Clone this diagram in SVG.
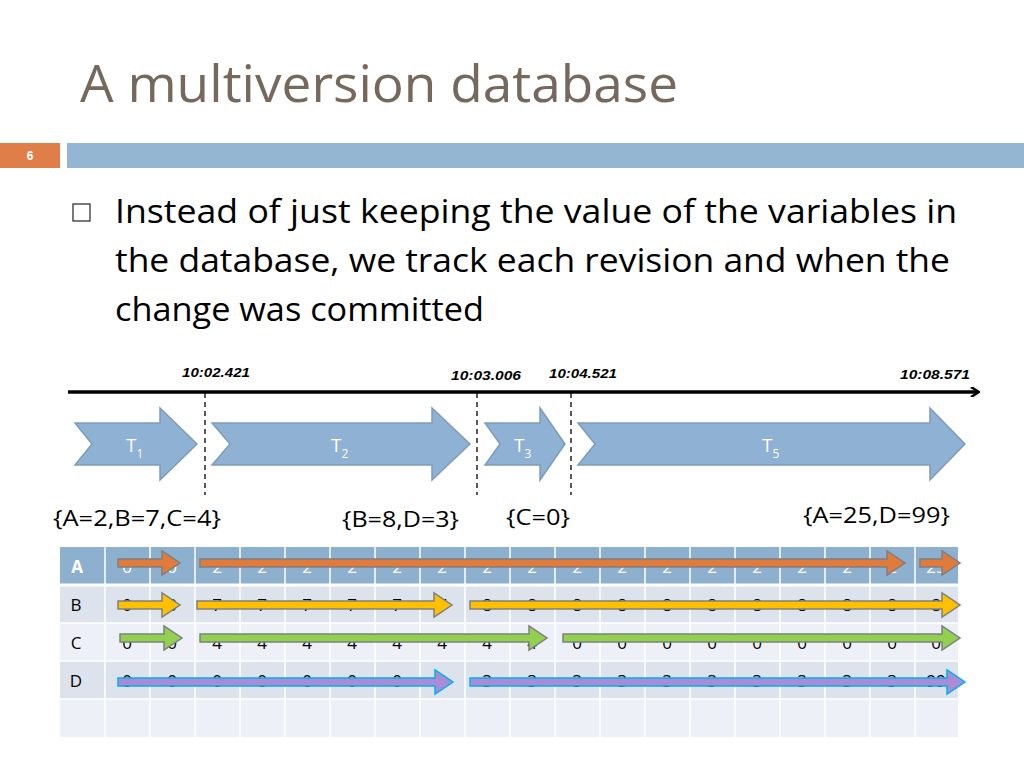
<svg xmlns="http://www.w3.org/2000/svg" width="1024" height="768" viewBox="0 0 1024 768">
<defs>
<style>
.body{font-family:"Open Sans","Liberation Sans",sans-serif;font-size:32px;fill:#000}
.ts{font-family:"Liberation Sans",sans-serif;font-size:13px;font-style:italic;font-weight:bold}
.set{font-family:"Open Sans","Liberation Sans",sans-serif;font-size:21px}
.ch{fill:#8FB1D3;stroke:#7D9CBB;stroke-width:1.5}
.tl{font-family:"Open Sans","Liberation Sans",sans-serif;font-size:19px;fill:#fff}
.cell{font-family:"Open Sans","Liberation Sans",sans-serif;font-size:17px;text-anchor:middle}
.dash{stroke:#000;stroke-width:1.3;stroke-dasharray:5,4}
</style>
<marker id="ah" markerWidth="10" markerHeight="10" refX="8" refY="5" orient="auto" markerUnits="userSpaceOnUse"><path d="M1,0 L9,5 L1,10" fill="none" stroke="#000" stroke-width="2.5"/></marker>
</defs>
<rect width="1024" height="768" fill="#fff"/>
<text x="80" y="102" font-family="'Open Sans','Liberation Sans',sans-serif" font-size="52" fill="#77685C" textLength="598" lengthAdjust="spacingAndGlyphs">A multiversion database</text>
<rect x="0" y="143" width="60" height="25" fill="#E07E4A"/>
<text x="30" y="160" font-family="'Liberation Sans',sans-serif" font-size="12" font-weight="bold" fill="#fff" text-anchor="middle">6</text>
<rect x="67" y="143" width="957" height="25" fill="#94B6D2"/>
<rect x="73" y="204" width="17" height="17" fill="none" stroke="#333" stroke-width="1.3"/>
<text class="body" x="115" y="223" textLength="842" lengthAdjust="spacingAndGlyphs">Instead of just keeping the value of the variables in</text>
<text class="body" x="115" y="272" textLength="835" lengthAdjust="spacingAndGlyphs">the database, we track each revision and when the</text>
<text class="body" x="115" y="321" textLength="369" lengthAdjust="spacingAndGlyphs">change was committed</text>

<g id="timeline">
<line x1="68" y1="392" x2="978" y2="392" stroke="#000" stroke-width="3.5" marker-end="url(#ah)"/>
<text class="ts" x="182" y="377" textLength="68" lengthAdjust="spacingAndGlyphs">10:02.421</text>
<text class="ts" x="451" y="380" textLength="70" lengthAdjust="spacingAndGlyphs">10:03.006</text>
<text class="ts" x="549" y="378" textLength="68" lengthAdjust="spacingAndGlyphs">10:04.521</text>
<text class="ts" x="900" y="379" textLength="70" lengthAdjust="spacingAndGlyphs">10:08.571</text>
<line class="dash" x1="205" y1="393" x2="205" y2="495"/>
<line class="dash" x1="477" y1="393" x2="477" y2="495"/>
<line class="dash" x1="571" y1="393" x2="571" y2="495"/>
</g>
<g id="T1"><path class="ch" d="M75,423 L160,423 L160,408 L197,444 L160,480 L160,465 L75,465 L92,444Z"/><text class="tl" x="126" y="452">T<tspan font-size="12" dy="6">1</tspan></text></g>
<g id="T2"><path class="ch" d="M212,423 L432,423 L432,408 L470,444 L432,480 L432,465 L212,465 L230,444Z"/><text class="tl" x="331" y="452">T<tspan font-size="12" dy="6">2</tspan></text></g>
<g id="T3"><path class="ch" d="M485,423 L540,423 L540,408 L565,444 L540,480 L540,465 L485,465 L500,444Z"/><text class="tl" x="514" y="452">T<tspan font-size="12" dy="6">3</tspan></text></g>
<g id="T5"><path class="ch" d="M578,423 L930,423 L930,408 L965,444 L930,480 L930,465 L578,465 L595,444Z"/><text class="tl" x="762" y="452">T<tspan font-size="12" dy="6">5</tspan></text></g>
<g id="sets">
<text class="set" x="53" y="526" textLength="168" lengthAdjust="spacingAndGlyphs">{A=2,B=7,C=4}</text>
<text class="set" x="342" y="527" textLength="117" lengthAdjust="spacingAndGlyphs">{B=8,D=3}</text>
<text class="set" x="506" y="525" textLength="64" lengthAdjust="spacingAndGlyphs">{C=0}</text>
<text class="set" x="803" y="523" textLength="147" lengthAdjust="spacingAndGlyphs">{A=25,D=99}</text>
</g>
<g id="table">
<rect x="60" y="547" width="898" height="38" fill="#8EB0CF"/>
<rect x="60" y="585" width="898" height="38" fill="#DCE3EC"/>
<rect x="60" y="623" width="898" height="38" fill="#EDF1F7"/>
<rect x="60" y="661" width="898" height="38" fill="#DCE3EC"/>
<rect x="60" y="699" width="898" height="38" fill="#EDF1F7"/>
<g stroke="#fff" stroke-width="1.5">
<line x1="60" y1="585" x2="958" y2="585" stroke-width="3"/><line x1="60" y1="623" x2="958" y2="623"/><line x1="60" y1="661" x2="958" y2="661"/><line x1="60" y1="699" x2="958" y2="699"/>
<line x1="105" y1="547" x2="105" y2="737"/><line x1="150" y1="547" x2="150" y2="737"/><line x1="195" y1="547" x2="195" y2="737"/><line x1="240" y1="547" x2="240" y2="737"/><line x1="285" y1="547" x2="285" y2="737"/><line x1="330" y1="547" x2="330" y2="737"/><line x1="375" y1="547" x2="375" y2="737"/><line x1="420" y1="547" x2="420" y2="737"/><line x1="465" y1="547" x2="465" y2="737"/><line x1="510" y1="547" x2="510" y2="737"/><line x1="555" y1="547" x2="555" y2="737"/><line x1="600" y1="547" x2="600" y2="737"/><line x1="645" y1="547" x2="645" y2="737"/><line x1="690" y1="547" x2="690" y2="737"/><line x1="735" y1="547" x2="735" y2="737"/><line x1="780" y1="547" x2="780" y2="737"/><line x1="825" y1="547" x2="825" y2="737"/><line x1="870" y1="547" x2="870" y2="737"/><line x1="915" y1="547" x2="915" y2="737"/>
</g>
<text class="cell" x="77" y="573" fill="#fff" font-weight="bold">A</text>
<text class="cell" x="76" y="611">B</text>
<text class="cell" x="76" y="649">C</text>
<text class="cell" x="76" y="687">D</text>
<g fill="#fff">
<text class="cell" x="127" y="573">0</text><text class="cell" x="172" y="573">0</text><text class="cell" x="217" y="573">2</text><text class="cell" x="262" y="573">2</text><text class="cell" x="307" y="573">2</text><text class="cell" x="352" y="573">2</text><text class="cell" x="397" y="573">2</text><text class="cell" x="442" y="573">2</text><text class="cell" x="487" y="573">2</text><text class="cell" x="532" y="573">2</text><text class="cell" x="577" y="573">2</text><text class="cell" x="622" y="573">2</text><text class="cell" x="667" y="573">2</text><text class="cell" x="712" y="573">2</text><text class="cell" x="757" y="573">2</text><text class="cell" x="802" y="573">2</text><text class="cell" x="847" y="573">2</text><text class="cell" x="892" y="573">2</text><text class="cell" x="936" y="573">25</text>
</g>
<g fill="#000">
<text class="cell" x="127" y="611">0</text><text class="cell" x="172" y="611">0</text><text class="cell" x="217" y="611">7</text><text class="cell" x="262" y="611">7</text><text class="cell" x="307" y="611">7</text><text class="cell" x="352" y="611">7</text><text class="cell" x="397" y="611">7</text><text class="cell" x="442" y="611">7</text><text class="cell" x="487" y="611">8</text><text class="cell" x="532" y="611">8</text><text class="cell" x="577" y="611">8</text><text class="cell" x="622" y="611">8</text><text class="cell" x="667" y="611">8</text><text class="cell" x="712" y="611">8</text><text class="cell" x="757" y="611">8</text><text class="cell" x="802" y="611">8</text><text class="cell" x="847" y="611">8</text><text class="cell" x="892" y="611">8</text><text class="cell" x="936" y="611">8</text>
<text class="cell" x="127" y="649">0</text><text class="cell" x="172" y="649">0</text><text class="cell" x="217" y="649">4</text><text class="cell" x="262" y="649">4</text><text class="cell" x="307" y="649">4</text><text class="cell" x="352" y="649">4</text><text class="cell" x="397" y="649">4</text><text class="cell" x="442" y="649">4</text><text class="cell" x="487" y="649">4</text><text class="cell" x="532" y="649">4</text><text class="cell" x="577" y="649">0</text><text class="cell" x="622" y="649">0</text><text class="cell" x="667" y="649">0</text><text class="cell" x="712" y="649">0</text><text class="cell" x="757" y="649">0</text><text class="cell" x="802" y="649">0</text><text class="cell" x="847" y="649">0</text><text class="cell" x="892" y="649">0</text><text class="cell" x="936" y="649">0</text>
<text class="cell" x="127" y="687">0</text><text class="cell" x="172" y="687">0</text><text class="cell" x="217" y="687">0</text><text class="cell" x="262" y="687">0</text><text class="cell" x="307" y="687">0</text><text class="cell" x="352" y="687">0</text><text class="cell" x="397" y="687">0</text><text class="cell" x="442" y="687">0</text><text class="cell" x="487" y="687">3</text><text class="cell" x="532" y="687">3</text><text class="cell" x="577" y="687">3</text><text class="cell" x="622" y="687">3</text><text class="cell" x="667" y="687">3</text><text class="cell" x="712" y="687">3</text><text class="cell" x="757" y="687">3</text><text class="cell" x="802" y="687">3</text><text class="cell" x="847" y="687">3</text><text class="cell" x="892" y="687">3</text><text class="cell" x="936" y="687">99</text>
</g>
</g>
<g id="connectors" stroke-width="1.5">
<g fill="#E07B3C" stroke="#7F7F7F">
<path d="M118,559 h44 v-8 l18,12 l-18,12 v-8 h-44z"/>
<path d="M200,559 h687 v-8 l18,12 l-18,12 v-8 h-687z"/>
<path d="M920,559 h22 v-8 l18,12 l-18,12 v-8 h-22z"/>
</g>
<g fill="#FFC000" stroke="#7F7F7F">
<path d="M118,601 h44 v-8 l18,12 l-18,12 v-8 h-44z"/>
<path d="M197,601 h237 v-8 l18,12 l-18,12 v-8 h-237z"/>
<path d="M470,601 h472 v-8 l18,12 l-18,12 v-8 h-472z"/>
</g>
<g fill="#92D050" stroke="#7F7F7F">
<path d="M120,634 h44 v-8 l18,12 l-18,12 v-8 h-44z"/>
<path d="M200,634 h329 v-8 l18,12 l-18,12 v-8 h-329z"/>
<path d="M563,634 h379 v-8 l18,12 l-18,12 v-8 h-379z"/>
</g>
<g fill="#A98BD6" stroke="#00B0F0">
<path d="M118,678 h317 v-8 l18,12 l-18,12 v-8 h-317z"/>
<path d="M470,678 h477 v-8 l18,12 l-18,12 v-8 h-477z"/>
</g>
</g>
</svg>
